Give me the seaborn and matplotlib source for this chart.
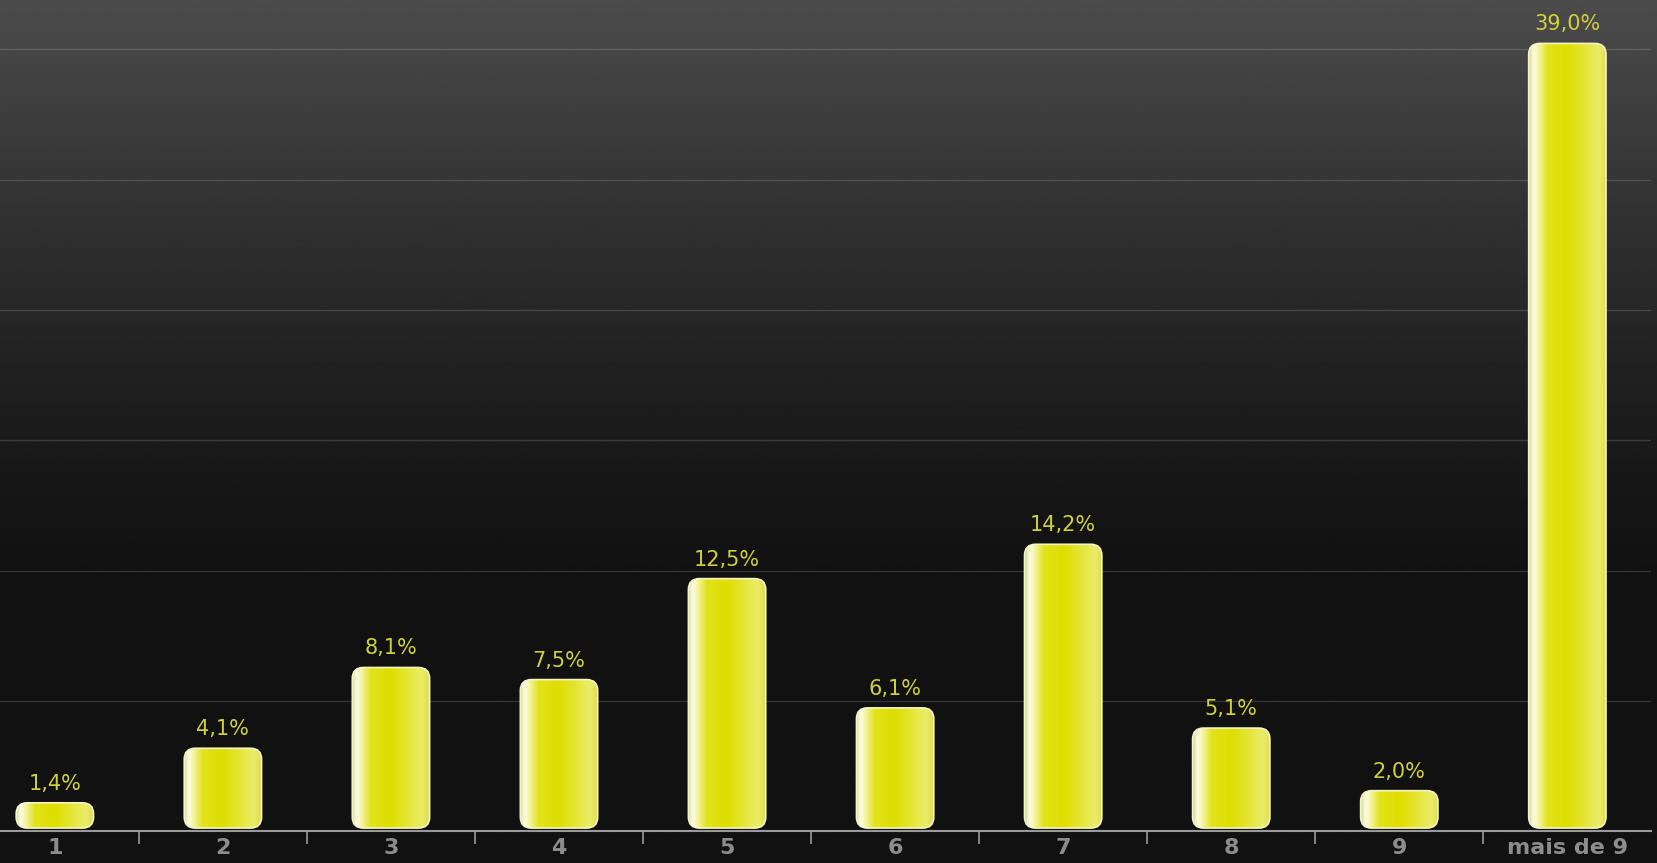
import numpy as np
import pandas as pd
import matplotlib
matplotlib.use("Agg")
import matplotlib.pyplot as plt
import seaborn as sns
from matplotlib.patches import FancyBboxPatch
from matplotlib.colors import LinearSegmentedColormap

categories = ["1", "2", "3", "4", "5", "6", "7", "8", "9", "mais de 9"]
values = [1.4, 4.1, 8.1, 7.5, 12.5, 6.1, 14.2, 5.1, 2.0, 39.0]
labels = ["1,4%", "4,1%", "8,1%", "7,5%", "12,5%", "6,1%", "14,2%", "5,1%", "2,0%", "39,0%"]

df = pd.DataFrame({"cat": categories, "val": values})

sns.set_theme(style="dark")
plt.rcParams["font.family"] = ["DejaVu Sans"]

fig = plt.figure(figsize=(16.58, 8.63), dpi=100, facecolor="#111111")
ax = fig.add_axes([-0.0176, 0.037, 1.0136, 0.963])
ax.set_facecolor("none")

# background gradient (whole figure)
bg = fig.add_axes([0, 0, 1, 1], zorder=-10)
yy = np.linspace(0, 1, 400)
shade = np.clip(1 - yy / 0.68, 0, 1) ** 1.3
col = 0x11 / 255 + shade * (0x4c - 0x11) / 255
bg.imshow(np.repeat(col[:, None], 2, axis=1), cmap="gray", vmin=0, vmax=1,
          aspect="auto", extent=(0, 1, 0, 1), origin="upper")
bg.axis("off")

sns.barplot(data=df, x="cat", y="val", ax=ax, width=0.46, color="#e0e000")

ymax = 41.15
ax.set_ylim(0, ymax)
ax.set_xlim(-0.5, len(categories) - 0.5)

# bar gradient: white highlight at left, yellow body, lighter right side
bar_cmap = LinearSegmentedColormap.from_list("bar", [
    (0.0, "#d8d890"), (0.05, "#fdfde8"), (0.11, "#f6f6b0"), (0.24, "#e2e21a"),
    (0.5, "#dede00"), (0.75, "#e6e640"), (0.9, "#ecec6a"), (1.0, "#dcdc50")])
grad = np.linspace(0, 1, 200)[None, :]

px_per_x = ax.bbox.width / (len(categories))
px_per_y = ax.bbox.height / ymax
radius_x = 11 / px_per_x
aspect = (11 / px_per_y) / radius_x
base = 3 / px_per_y  # small gap between bars and the axis line

for p, lab in zip(ax.patches, labels):
    x, w, h = p.get_x(), p.get_width(), p.get_height()
    p.set_visible(False)
    box = FancyBboxPatch((x, base), w, h - base,
                         boxstyle=f"round,pad=0,rounding_size={radius_x}",
                         mutation_aspect=aspect, facecolor="none",
                         edgecolor="#f4f4c8", linewidth=1.2, zorder=3)
    ax.add_patch(box)
    im = ax.imshow(grad, cmap=bar_cmap, aspect="auto", extent=(x, x + w, base, h),
                   zorder=2, interpolation="bicubic")
    im.set_clip_path(box)
    ax.text(x + w / 2, h + 0.45, lab, ha="center", va="bottom",
            color="#d0d03c", fontsize=15)

ax.set_xlim(-0.5, len(categories) - 0.5)
ax.set_ylim(0, ymax)

ax.set_yticks(np.arange(0, 40, 6.45))
ax.yaxis.grid(True, color="#ffffff", alpha=0.15, linewidth=1)
ax.xaxis.grid(False)
ax.tick_params(axis="y", left=False, labelleft=False)
ax.set_xticks(np.arange(0.5, len(categories) - 0.5, 1), minor=True)
ax.tick_params(axis="x", which="major", length=0, pad=5,
               labelcolor="#8c8c8c", labelsize=16)
ax.tick_params(axis="x", which="minor", length=9, color="#9a9a9a",
               width=1.2, direction="out", bottom=True)
for t in ax.get_xticklabels():
    t.set_fontweight("bold")
ax.set_xlabel("")
ax.set_ylabel("")
for s in ["top", "left", "right"]:
    ax.spines[s].set_visible(False)
ax.spines["bottom"].set_color("#9a9a9a")
ax.spines["bottom"].set_linewidth(1.5)

fig.savefig("out.png", dpi=100, facecolor=fig.get_facecolor())
